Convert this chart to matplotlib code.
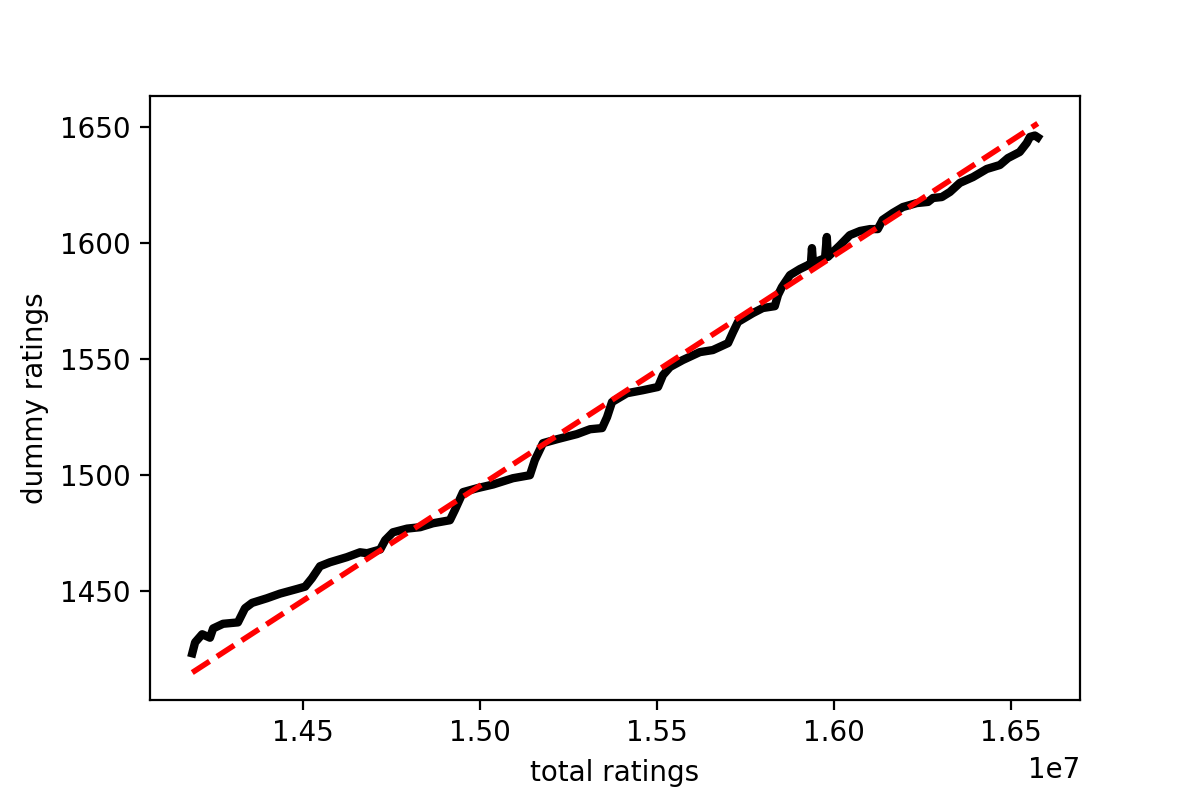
#!/bin/python3
# -*- coding: utf-8 -*-

import numpy as np
import matplotlib
matplotlib.use('Agg')
import matplotlib.pyplot as plt

# total ratings (in millions) vs. dummy ratings
total_m = [14.187, 14.195, 14.215, 14.237, 14.246, 14.274, 14.316, 14.336,
           14.356, 14.398, 14.435, 14.483, 14.506, 14.525, 14.548, 14.576,
           14.624, 14.661, 14.681, 14.718, 14.732, 14.754, 14.794, 14.831,
           14.867, 14.915, 14.929, 14.952, 14.992, 15.037, 15.093, 15.141,
           15.155, 15.178, 15.218, 15.274, 15.311, 15.345, 15.359, 15.373,
           15.415, 15.460, 15.503, 15.517, 15.537, 15.573, 15.621, 15.658,
           15.701, 15.715, 15.729, 15.771, 15.799, 15.833, 15.842, 15.853,
           15.876, 15.904, 15.927, 15.935, 15.938, 15.941, 15.975, 15.980,
           15.983, 16.017, 16.045, 16.074, 16.102, 16.124, 16.138, 16.167,
           16.195, 16.234, 16.266, 16.280, 16.305, 16.328, 16.356, 16.393,
           16.432, 16.469, 16.492, 16.525, 16.545, 16.554, 16.568, 16.576]
dummy = [1423.3, 1428.0, 1431.5, 1430.0, 1434.0, 1436.0, 1436.6, 1442.7,
         1445.0, 1447.0, 1449.0, 1451.0, 1452.0, 1455.6, 1460.8, 1462.5,
         1464.7, 1466.8, 1466.4, 1468.0, 1472.0, 1475.4, 1477.0, 1477.6,
         1479.3, 1480.6, 1485.0, 1492.7, 1494.4, 1496.0, 1498.7, 1500.0,
         1506.5, 1513.8, 1515.5, 1517.7, 1519.8, 1520.3, 1525.0, 1531.5,
         1535.3, 1536.6, 1538.0, 1543.1, 1546.6, 1549.6, 1553.0, 1553.9,
         1556.9, 1561.6, 1566.0, 1569.8, 1572.0, 1572.8, 1577.6, 1581.0,
         1586.2, 1588.8, 1590.5, 1591.0, 1597.8, 1591.4, 1593.5, 1602.6,
         1594.0, 1599.0, 1603.4, 1605.2, 1606.0, 1606.0, 1610.0, 1613.0,
         1615.5, 1617.2, 1617.7, 1619.4, 1619.8, 1622.0, 1625.9, 1628.4,
         1631.9, 1633.6, 1636.6, 1639.2, 1643.1, 1645.7, 1646.3, 1645.5]

# fitted line end points
fit_total_m = [14.187, 16.576]
fit_dummy = [1415.0, 1651.5]

x = np.array(total_m) * 1e6
y = np.array(dummy)

fig, ax = plt.subplots(figsize=(6, 4), dpi=200)
fig.subplots_adjust(bottom=0.125)
ax.plot(x, y, color='k', lw=3)
ax.plot(np.array(fit_total_m) * 1e6, fit_dummy, 'r--', lw=2)
ax.set_xlabel('total ratings')
ax.set_ylabel('dummy ratings')
ax.set_yticks([1450, 1500, 1550, 1600, 1650])

fig.savefig('out.png', dpi=200)
